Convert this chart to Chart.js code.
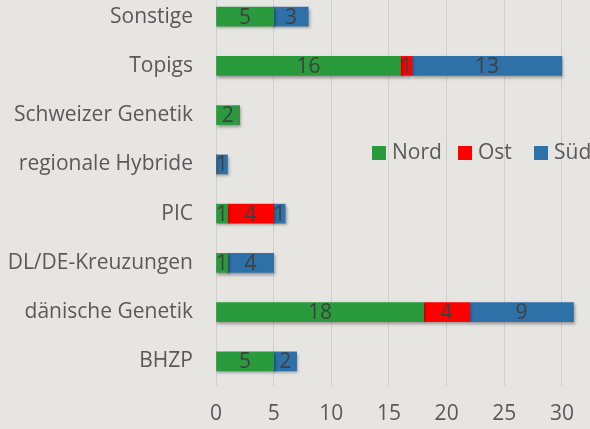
<!DOCTYPE html>
<html>
<head>
<meta charset="utf-8">
<script src="https://cdn.jsdelivr.net/npm/chart.js@4/dist/chart.umd.min.js"></script>
<style>
    html, body { margin: 0; padding: 0; background: #e7e5e2; overflow: hidden; }
    #wrap { position: absolute; left: 0; top: -8px; width: 590px; height: 437px; }
</style>
</head>
<body>
<div id="wrap"><canvas id="barChart"></canvas></div>
<script>
// --- Data ---
const categories = ['Sonstige', 'Topigs', 'Schweizer Genetik', 'regionale Hybride', 'PIC', 'DL/DE-Kreuzungen', 'dänische Genetik', 'BHZP'];
const nordValues = [5, 16, 2, 0, 1, 1, 18, 5];
const ostValues = [0, 1, 0, 0, 4, 0, 4, 0];
const suedValues = [3, 13, 0, 1, 1, 4, 9, 2];
const xTicks = [0, 5, 10, 15, 20, 25, 30];

const FONT = '"Open Sans", sans-serif';

// Schatten unter den Balken
const barShadow = {
    id: 'barShadow',
    beforeDatasetsDraw(chart) {
        const ctx = chart.ctx;
        ctx.save();
        ctx.shadowColor = 'rgba(0,0,0,0.35)';
        ctx.shadowBlur = 3;
        ctx.shadowOffsetX = 1;
        ctx.shadowOffsetY = 2;
    },
    afterDatasetsDraw(chart) {
        chart.ctx.restore();
    }
};

// Werte mittig in die Segmente schreiben
const valueLabels = {
    id: 'valueLabels',
    afterDatasetsDraw(chart) {
        const ctx = chart.ctx;
        ctx.save();
        ctx.font = '21px ' + FONT;
        ctx.fillStyle = '#404040';
        ctx.textAlign = 'center';
        ctx.textBaseline = 'middle';
        chart.data.datasets.forEach((ds, i) => {
            const meta = chart.getDatasetMeta(i);
            meta.data.forEach((bar, j) => {
                const v = ds.data[j];
                if (!v) return;
                const cx = (bar.x + bar.base) / 2;
                ctx.fillText(String(v), cx, bar.y + 1);
            });
        });
        ctx.restore();
    }
};

// Legende im Diagrammbereich
const innerLegend = {
    id: 'innerLegend',
    afterDraw(chart) {
        const ctx = chart.ctx;
        const xs = [372, 458, 534];
        const y = 161; // Canvas-Koordinaten (Seite + 8)
        ctx.save();
        ctx.font = '21px ' + FONT;
        ctx.textBaseline = 'middle';
        ctx.textAlign = 'left';
        chart.data.datasets.forEach((ds, i) => {
            const x = xs[i];
            ctx.fillStyle = ds.backgroundColor;
            ctx.fillRect(x, y - 7, 14, 14);
            ctx.fillStyle = '#595959';
            ctx.fillText(ds.label, x + 20, y);
        });
        ctx.restore();
    }
};

const ctx = document.getElementById('barChart').getContext('2d');
window.barChart = new Chart(ctx, {
    type: 'bar',
    data: {
        labels: categories,
        datasets: [
            { label: 'Nord', data: nordValues, backgroundColor: '#2a9b3c' },
            { label: 'Ost', data: ostValues, backgroundColor: '#ff0000' },
            { label: 'Süd', data: suedValues, backgroundColor: '#2e70a8' }
        ]
    },
    options: {
        indexAxis: 'y',
        responsive: true,
        maintainAspectRatio: false,
        animation: false,
        barThickness: 19,
        layout: { padding: { top: 0, right: 5, bottom: 0, left: 0 } },
        plugins: {
            legend: { display: false },
            tooltip: { enabled: false }
        },
        scales: {
            x: {
                stacked: true,
                min: 0,
                max: 32,
                afterBuildTicks: scale => { scale.ticks = xTicks.map(v => ({ value: v })); },
                afterFit: scale => { scale.height = 43; },
                ticks: { color: '#595959', font: { family: FONT, size: 21 }, padding: 15 },
                grid: { color: '#d2d0cc', drawTicks: false },
                border: { display: false }
            },
            y: {
                stacked: true,
                afterFit: scale => {
                    scale.width = 216;
                    scale.paddingTop = 0;
                    scale.paddingBottom = 0;
                },
                ticks: { color: '#595959', font: { family: FONT, size: 21 }, padding: 23 },
                grid: { display: false, drawTicks: false },
                border: { display: false }
            }
        }
    },
    plugins: [barShadow, valueLabels, innerLegend]
});
</script>
</body>
</html>
